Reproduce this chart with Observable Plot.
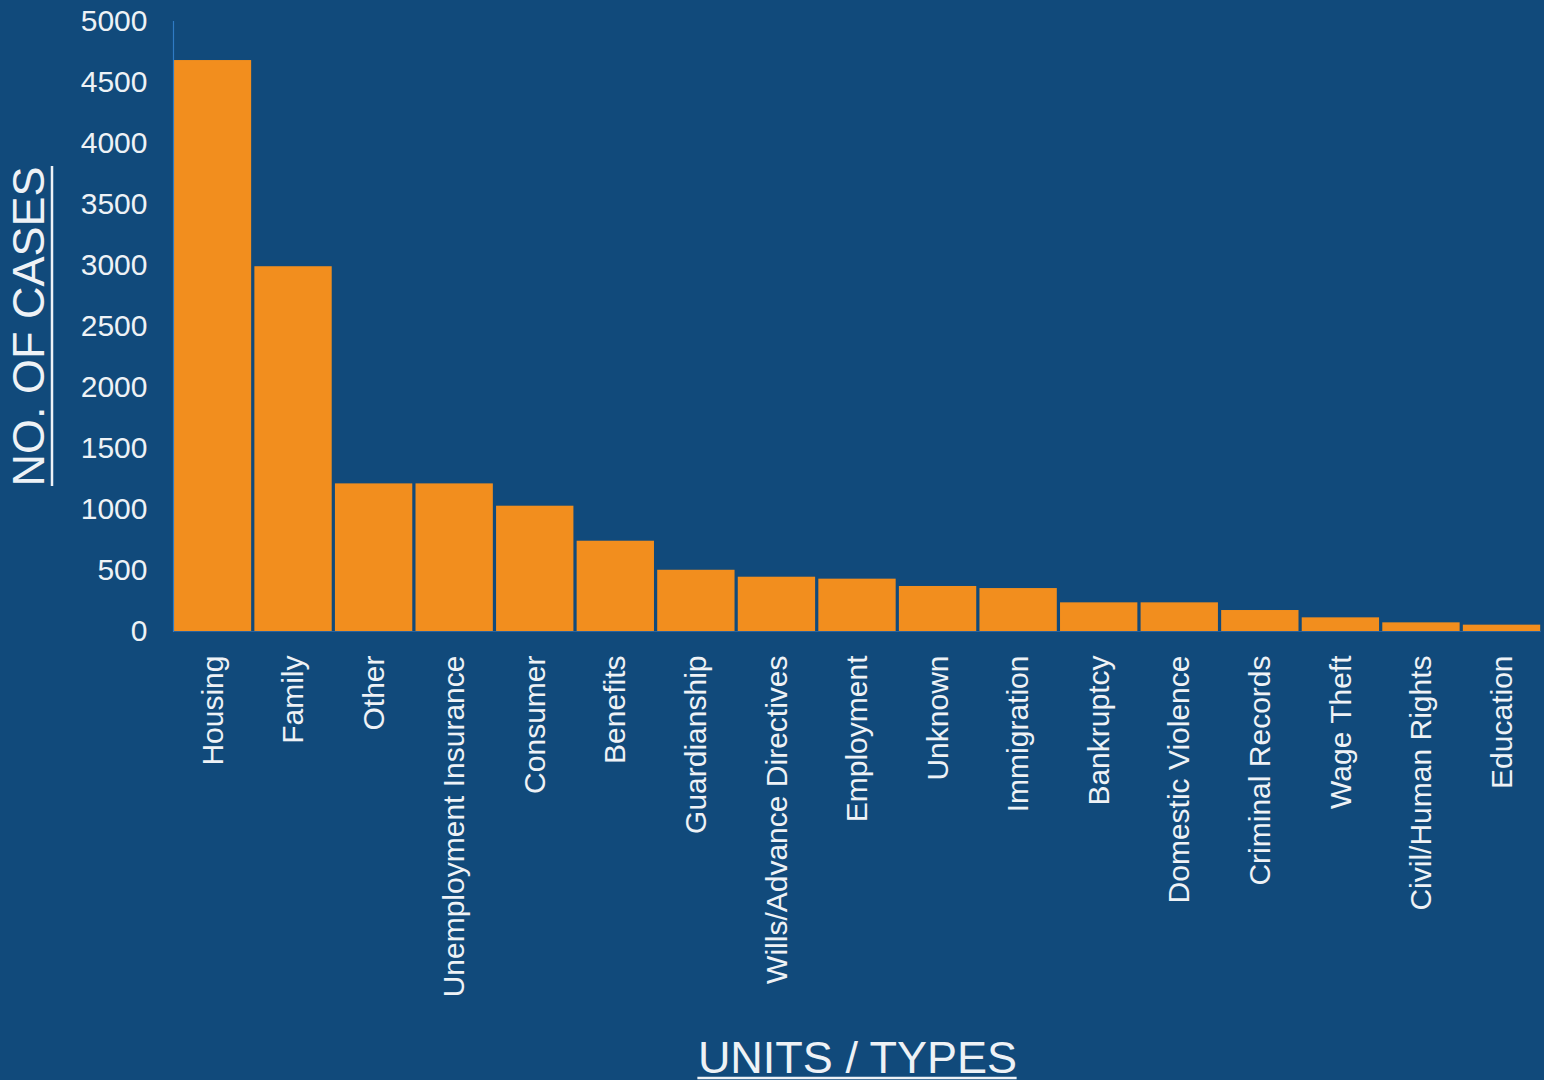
<!DOCTYPE html>
<html>
<head>
<meta charset="utf-8">
<script src="https://cdn.jsdelivr.net/npm/d3@7"></script>
<script src="https://cdn.jsdelivr.net/npm/@observablehq/plot@0.6"></script>
<style>
  html, body { margin: 0; padding: 0; background: #114a7b; }
  #chart svg { display: block; }
</style>
</head>
<body>
<div id="chart"></div>
<script>
const categories = ["Housing", "Family", "Other", "Unemployment Insurance", "Consumer", "Benefits", "Guardianship", "Wills/Advance Directives", "Employment", "Unknown", "Immigration", "Bankruptcy", "Domestic Violence", "Criminal Records", "Wage Theft", "Civil/Human Rights", "Education"];
const cases = [4680, 2990, 1210, 1210, 1027, 740, 502, 445, 429, 369, 352, 235, 235, 172, 112, 71, 52];
const yTicks = [0, 500, 1000, 1500, 2000, 2500, 3000, 3500, 4000, 4500, 5000];
const yTitle = "NO. OF CASES";
const xTitle = "UNITS / TYPES";

const data = categories.map((c, i) => ({category: c, value: cases[i]}));

const bg = "#114a7b";
const orange = "#f28e1e";
const textColor = "#eef2f6";

const W = 1544, H = 1080, mL = 173, mR = 3, mT = 21, mB = 449;
const yTitleDx = -130, xTitleDy = 441;

const chart = Plot.plot({
  width: W,
  height: H,
  marginLeft: mL,
  marginRight: mR,
  marginTop: mT,
  marginBottom: mB,
  style: {background: bg, fontFamily: "'Liberation Sans', Arial, sans-serif", color: textColor},
  x: {domain: categories, paddingInner: 0.04, paddingOuter: 0.01, round: false, label: null},
  y: {domain: [0, 5000], label: null},
  marks: [
    Plot.barY(data, {x: "category", y: "value", fill: orange}),
    Plot.ruleY([0], {stroke: "#2a64a0", strokeWidth: 1}),
    Plot.frame({anchor: "left", stroke: "#2f7bc4", strokeWidth: 1.2}),
    Plot.axisY({ticks: yTicks, tickSize: 0, tickPadding: 26, fontSize: 30, fill: textColor, label: null, tickFormat: d => String(d)}),
    Plot.axisX({tickSize: 0, tickRotate: -90, tickPadding: 24, fontSize: 30, fill: textColor, label: null}),
    Plot.text([yTitle], {frameAnchor: "left", textAnchor: "middle", rotate: -90, lineAnchor: "bottom", dx: yTitleDx, fontSize: 45, fill: textColor}),
    Plot.text([xTitle], {frameAnchor: "bottom", textAnchor: "middle", lineAnchor: "bottom", dy: xTitleDy, fontSize: 45, fill: textColor})
  ]
});

document.getElementById("chart").appendChild(chart);

// underline the two titles
const texts = Array.from(chart.querySelectorAll("text"));
const yT = texts.find(t => t.textContent === yTitle);
const xT = texts.find(t => t.textContent === xTitle);
const ns = "http://www.w3.org/2000/svg";
function addLine(x1, y1, x2, y2) {
  const l = document.createElementNS(ns, "line");
  l.setAttribute("x1", x1); l.setAttribute("y1", y1);
  l.setAttribute("x2", x2); l.setAttribute("y2", y2);
  l.setAttribute("stroke", textColor);
  l.setAttribute("stroke-width", 2.5);
  chart.appendChild(l);
}
const cy = mT + (H - mT - mB) / 2;
const cx = mL + (W - mL - mR) / 2;
if (yT) {
  const len = yT.getComputedTextLength();
  const bx = mL + yTitleDx + 9;
  addLine(bx, cy - len / 2, bx, cy + len / 2);
}
if (xT) {
  const len = xT.getComputedTextLength();
  const by = (H - mB) + xTitleDy + 6;
  addLine(cx - len / 2, by, cx + len / 2, by);
}
</script>
</body>
</html>
